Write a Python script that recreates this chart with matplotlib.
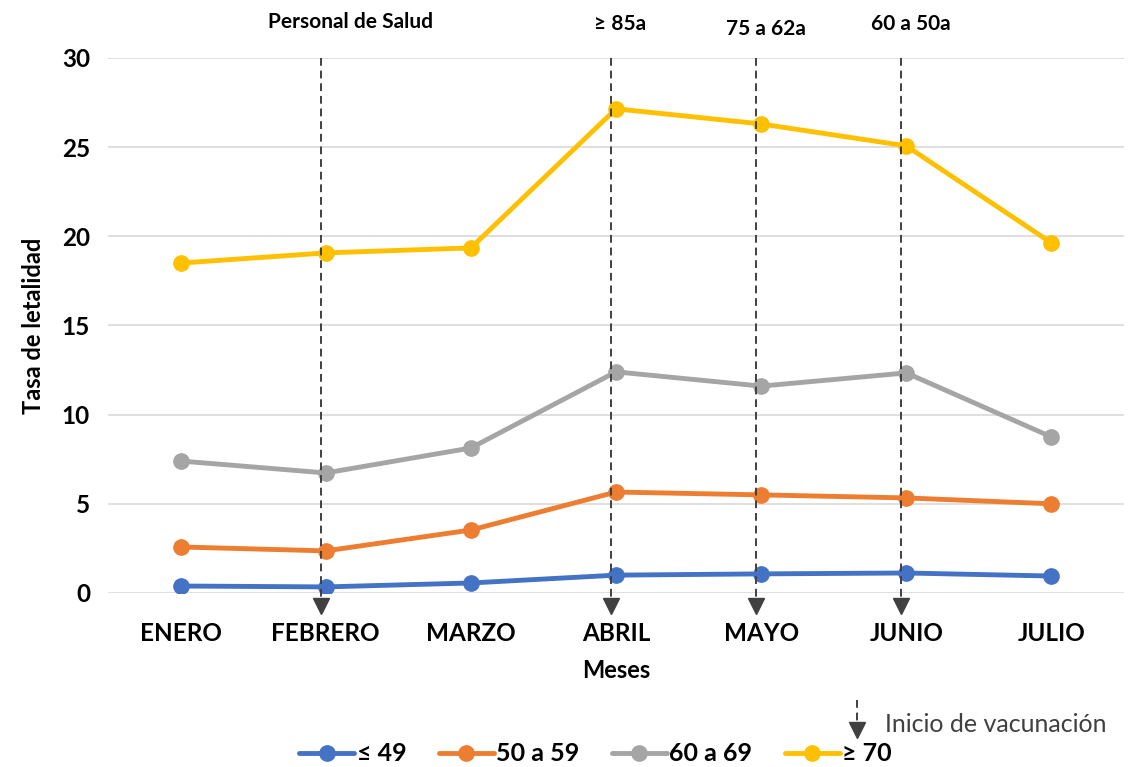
import matplotlib.pyplot as plt

plt.rcParams['font.family'] = ['Lato', 'DejaVu Sans']

# datos
meses = ['ENERO', 'FEBRERO', 'MARZO', 'ABRIL', 'MAYO', 'JUNIO', 'JULIO']
grupos = ['≤ 49', '50 a 59', '60 a 69', '≥ 70']
g49 = [0.39, 0.34, 0.56, 1.00, 1.07, 1.12, 0.95]
g50 = [2.58, 2.36, 3.53, 5.66, 5.50, 5.33, 5.00]
g60 = [7.40, 6.73, 8.13, 12.40, 11.60, 12.34, 8.75]
g70 = [18.50, 19.07, 19.35, 27.15, 26.30, 25.07, 19.63]
colores = ['#4472C4', '#ED7D31', '#A5A5A5', '#FFC000']

# inicio de vacunacion por grupo (indice del mes)
hitos_mes = [1, 3, 4, 5]
hitos_txt = ['Personal de Salud', '≥ 85a', '75 a 62a', '60 a 50a']

fig = plt.figure(figsize=(11.3, 7.67), dpi=100)
ax = fig.add_axes([0.0956, 0.2269, 0.8991, 0.6975])

x = range(len(meses))
for serie, nombre, c in zip([g49, g50, g60, g70], grupos, colores):
    ax.plot(x, serie, color=c, lw=3.5, marker='o', ms=11, label=nombre,
            solid_capstyle='round', zorder=3)

ax.set_xlim(-0.5, 6.5)
ax.set_ylim(0, 30)
ax.set_yticks(range(0, 31, 5))
ax.set_xticks(list(x))
ax.set_xticklabels(meses)
ax.grid(axis='y', color='#D9D9D9', lw=1.2)
ax.set_axisbelow(True)
for s in ax.spines.values():
    s.set_visible(False)
ax.tick_params(length=0, labelsize=17.5, pad=13)
ax.tick_params(axis='x', pad=21)
for t in ax.get_xticklabels() + ax.get_yticklabels():
    t.set_fontweight('bold')

ax.set_xlabel('Meses', fontsize=17, fontweight='bold', labelpad=10)
ax.set_ylabel('Tasa de letalidad', fontsize=17, fontweight='bold', labelpad=12)

# flechas de inicio de vacunacion
for i, txt, dy in zip(hitos_mes, hitos_txt, [2.0, 1.9, 1.6, 1.9]):
    xi = i - 0.035
    ax.plot([xi, xi], [30, -0.5], color='#404040', lw=1.4, ls=(0, (4, 2.5)),
            clip_on=False, zorder=4)
    ax.plot(xi, -0.75, marker='v', color='#404040', ms=11, clip_on=False, zorder=4)
    ax.text(i + 0.03 if i > 1 else i + 0.17, 30 + dy, txt, ha='center', va='center',
            fontsize=15, fontweight='bold', clip_on=False)

# leyenda
fig.legend(loc='center', bbox_to_anchor=(0.527, 0.017), ncol=4, frameon=False,
           handlelength=2.2, handletextpad=0.1, columnspacing=1.3,
           prop={'weight': 'bold', 'size': 18})

# nota "Inicio de vacunacion"
fig.lines.append(plt.Line2D([857 / 1130, 857 / 1130], [1 - 700 / 767, 1 - 726 / 767],
                            transform=fig.transFigure, color='#404040', lw=1.4,
                            ls=(0, (4, 2.5))))
fig.lines.append(plt.Line2D([857 / 1130], [1 - 730 / 767], transform=fig.transFigure,
                            marker='v', color='#404040', ms=11))
fig.text(885 / 1130, 1 - 725 / 767, 'Inicio de vacunación', fontsize=18,
         color='#404040', va='center', ha='left')

fig.savefig('out.png', dpi=100)
